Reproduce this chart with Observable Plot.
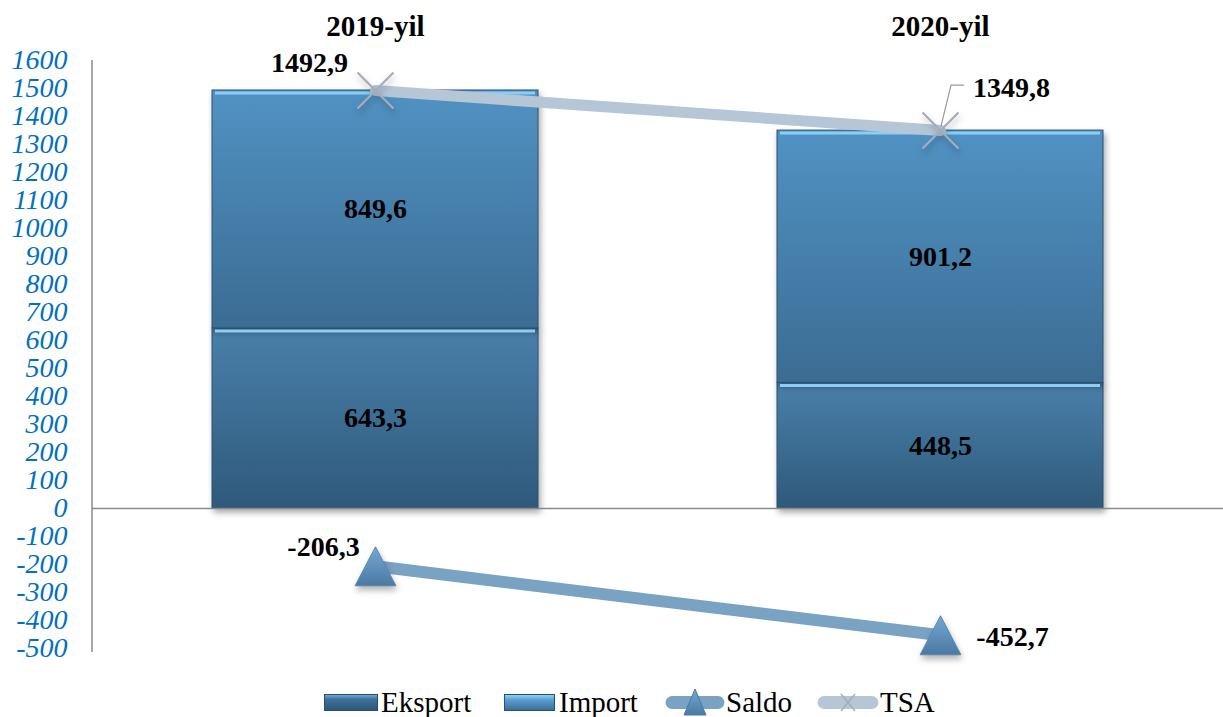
<!DOCTYPE html>
<html><head><meta charset="utf-8">
<script src="https://cdn.jsdelivr.net/npm/d3@7"></script>
<script src="https://cdn.jsdelivr.net/npm/@observablehq/plot@0.6"></script>
<style>
body{margin:0;background:#fff;width:1223px;height:717px;overflow:hidden;font-family:"Liberation Serif","Times New Roman",serif;position:relative}
#chart svg{display:block}
g[aria-label="bar"] rect{filter:drop-shadow(2px 4px 3px rgba(0,0,0,.35))}
g[aria-label="dot"] path{filter:drop-shadow(1px 4px 3px rgba(0,0,0,.3))}
#legend{position:absolute;left:0;top:684px;width:1223px;height:33px;font-family:"Liberation Serif",serif;font-size:29px;color:#000;white-space:nowrap}
#legend svg{position:absolute;top:0;display:block}
#legend span{position:absolute;top:0;line-height:36px}
</style></head><body>
<div id="chart"></div>
<div id="legend"></div>
<script>
// ---- data ----
const years = ["2019-yil", "2020-yil"];
const eksport = [643.3, 448.5];
const importV = [849.6, 901.2];
const saldo = [-206.3, -452.7];
const tsa = [1492.9, 1349.8];
const yTicks = [-500,-400,-300,-200,-100,0,100,200,300,400,500,600,700,800,900,1000,1100,1200,1300,1400,1500,1600];
const seriesNames = ["Eksport", "Import", "Saldo", "TSA"];

const FONT = "'Liberation Serif', 'Times New Roman', serif";
const fmt = v => v.toFixed(1).replace(".", ",");
const bars = years.map((y, i) => ({year: y, eks: eksport[i], imp: importV[i], top: eksport[i] + importV[i],
  midE: eksport[i] / 2, midI: eksport[i] + importV[i] / 2}));
const saldoData = years.map((y, i) => ({year: y, value: saldo[i], label: fmt(saldo[i])}));
const tsaData = years.map((y, i) => ({year: y, value: tsa[i], label: fmt(tsa[i])}));

const defs = () => {
  const d = d3.create("svg:defs");
  const grad = (id, stops) => {
    const g = d.append("linearGradient").attr("id", id).attr("x1", 0).attr("y1", 0).attr("x2", 0).attr("y2", 1);
    stops.forEach(([o, c]) => g.append("stop").attr("offset", o).attr("stop-color", c));
  };
  grad("gE", [["0%", "#4a80aa"], ["100%", "#2e597b"]]);
  grad("gI", [["0%", "#5192c3"], ["100%", "#3b6c93"]]);
  grad("gT", [["0%", "#73a8d3"], ["100%", "#4a7aa3"]]);
  return d.node();
};

const yAxisLine = (index, scales, values, dims) => {
  const l = d3.create("svg:line")
    .attr("x1", dims.marginLeft).attr("x2", dims.marginLeft)
    .attr("y1", dims.marginTop).attr("y2", dims.height - dims.marginBottom + 4)
    .attr("stroke", "#8a8a8a").attr("stroke-width", 1.5);
  return l.node();
};

const leader = (index, scales) => {
  const x = scales.x, y = scales.y;
  const bw = typeof x.bandwidth === "function" ? x.bandwidth() : (x.bandwidth || 0);
  const d = tsaData[1];
  const px = x(d.year) + bw / 2, py = y(d.value);
  return d3.create("svg:path")
    .attr("d", `M${px + 1},${py - 4}L${px + 11},${py - 45}L${px + 24},${py - 45}`)
    .attr("fill", "none").attr("stroke", "#9a9a9a").attr("stroke-width", 1.2).node();
};

const triSym = {draw(ctx, size) {
  const r = Math.sqrt(size / Math.PI);
  const hw = r * 1.02, h = r * 1.95;
  ctx.moveTo(0, -h / 2); ctx.lineTo(hw, h / 2); ctx.lineTo(-hw, h / 2); ctx.closePath();
}};
const xSym = {draw(ctx, size) {
  const r = Math.sqrt(size / Math.PI);
  ctx.moveTo(-r, -r); ctx.lineTo(r, r); ctx.moveTo(-r, r); ctx.lineTo(r, -r);
}};

const lab = {fontSize: 28, fontWeight: "bold", fill: "#000", text: "label", fontFamily: FONT};

const chart = Plot.plot({
  width: 1223, height: 680,
  marginLeft: 92, marginRight: 0, marginTop: 60, marginBottom: 32,
  x: {type: "band", domain: years, paddingInner: 0.423, paddingOuter: 0.2115, axis: null},
  y: {domain: [-500, 1600], axis: null},
  style: {fontFamily: FONT, background: "transparent", overflow: "visible"},
  marks: [
    defs,
    Plot.axisY({ticks: yTicks, tickSize: 0, tickPadding: 25, tickFormat: d => String(d), label: null,
      fontSize: 28, fontStyle: "italic", fill: "#0070c0", fontFamily: FONT}),
    Plot.barY(bars, {x: "year", y1: 0, y2: "eks", fill: "url(#gE)", stroke: "#2b5374", strokeWidth: 1}),
    Plot.barY(bars, {x: "year", y1: "eks", y2: "top", fill: "url(#gI)", stroke: "#2b5374", strokeWidth: 1}),
    Plot.tickY(bars, {x: "year", y: "eks", dy: 2.5, stroke: "#8ccdf3", strokeWidth: 3, insetLeft: 3, insetRight: 3}),
    Plot.tickY(bars, {x: "year", y: "top", dy: 2.5, stroke: "#8ccdf3", strokeWidth: 3, insetLeft: 3, insetRight: 3}),
    Plot.ruleY([0], {stroke: "#8a8a8a", strokeWidth: 1.5}),
    yAxisLine,
    Plot.text(years, {x: d => d, frameAnchor: "top", lineAnchor: "middle", dy: -34, fontSize: 29, fontWeight: "bold", fill: "#000", fontFamily: FONT}),
    Plot.text(bars, {x: "year", y: "midE", text: d => fmt(d.eks), fontSize: 28, fontWeight: "bold", fill: "#000", fontFamily: FONT}),
    Plot.text(bars, {x: "year", y: "midI", text: d => fmt(d.imp), fontSize: 28, fontWeight: "bold", fill: "#000", fontFamily: FONT}),
    Plot.line(saldoData, {x: "year", y: "value", stroke: "#7aa2c3", strokeWidth: 12}),
    Plot.line(tsaData, {x: "year", y: "value", stroke: "#b5c6d7", strokeWidth: 11}),
    Plot.dot(saldoData, {x: "year", y: "value", symbol: triSym, r: 20, fill: "url(#gT)", stroke: "#5d88ad", strokeWidth: 1}),
    Plot.dot(tsaData, {x: "year", y: "value", symbol: xSym, r: 18, fill: "none", stroke: "#a3aeb9", strokeWidth: 2.2}),
    leader,
    Plot.text([tsaData[0]], {x: "year", y: "value", dx: -66, dy: -27, ...lab}),
    Plot.text([tsaData[1]], {x: "year", y: "value", dx: 71, dy: -43, ...lab}),
    Plot.text([saldoData[0]], {x: "year", y: "value", dx: -52, dy: -19, ...lab}),
    Plot.text([saldoData[1]], {x: "year", y: "value", dx: 72, dy: 2, ...lab})
  ]
});
document.getElementById("chart").appendChild(chart);

// ---- legend ----
const sw = {
  Eksport: `<svg width="54" height="36" style="left:324px"><defs><linearGradient id="lE" x1="0" y1="0" x2="0" y2="1"><stop offset="0" stop-color="#6fb0dc"/><stop offset="0.3" stop-color="#3f709a"/><stop offset="1" stop-color="#2d5678"/></linearGradient></defs><rect x="0.5" y="10.5" width="53" height="16" fill="url(#lE)" stroke="#27506f"/></svg>`,
  Import: `<svg width="51" height="36" style="left:504px"><defs><linearGradient id="lI" x1="0" y1="0" x2="0" y2="1"><stop offset="0" stop-color="#8fd6fb"/><stop offset="0.35" stop-color="#5a9cd0"/><stop offset="1" stop-color="#3b6c93"/></linearGradient></defs><rect x="0.5" y="10.5" width="50" height="16" fill="url(#lI)" stroke="#27506f"/></svg>`,
  Saldo: `<svg width="60" height="36" style="left:665px"><line x1="7" y1="18.5" x2="53" y2="18.5" stroke="#7aa2c3" stroke-width="13" stroke-linecap="round"/><path d="M30,5L41,31L19,31Z" fill="url(#gT)" stroke="#4f7a9f"/></svg>`,
  TSA: `<svg width="62" height="36" style="left:817px"><line x1="7" y1="18.5" x2="55" y2="18.5" stroke="#b5c6d7" stroke-width="13" stroke-linecap="round"/><path d="M24,10L38,27M24,27L38,10" stroke="#a3aeb9" stroke-width="1.5"/></svg>`
};
const textLeft = {Eksport: 381, Import: 559, Saldo: 726, TSA: 880};
document.getElementById("legend").innerHTML = seriesNames.map(n => `${sw[n]}<span style="left:${textLeft[n]}px">${n}</span>`).join("");
</script>
</body></html>
